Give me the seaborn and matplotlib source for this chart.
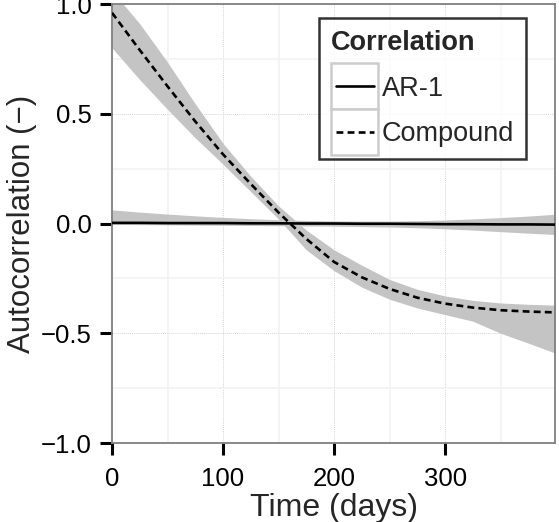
import numpy as np
import pandas as pd
import matplotlib
matplotlib.use("Agg")
import matplotlib.pyplot as plt
import seaborn as sns
from matplotlib.legend_handler import HandlerLine2D
from matplotlib.patches import Rectangle

# --- data ---
days = [0, 25, 50, 75, 100, 125, 150, 175, 200, 225, 250, 275, 300, 325, 350, 375, 399]

compound = [0.96, 0.79, 0.625, 0.465, 0.315, 0.18, 0.05, -0.07, -0.175, -0.245, -0.298,
            -0.338, -0.365, -0.383, -0.395, -0.401, -0.405]
compound_lo = [0.80, 0.655, 0.52, 0.39, 0.27, 0.145, 0.02, -0.12, -0.215, -0.29, -0.345,
               -0.385, -0.415, -0.445, -0.50, -0.545, -0.59]
compound_hi = [1.06, 0.91, 0.735, 0.545, 0.365, 0.215, 0.08, -0.03, -0.12, -0.19, -0.255,
               -0.30, -0.33, -0.35, -0.362, -0.368, -0.372]

ar1 = [0.003, 0.003, 0.002, 0.002, 0.002, 0.001, 0.001, 0.0, 0.0, -0.001, -0.001,
       -0.002, -0.003, -0.003, -0.004, -0.004, -0.005]
ar1_lo = [-0.004, -0.005, -0.006, -0.007, -0.008, -0.009, -0.010, -0.011, -0.012, -0.014,
          -0.016, -0.019, -0.024, -0.030, -0.037, -0.044, -0.050]
ar1_hi = [0.062, 0.052, 0.043, 0.035, 0.028, 0.022, 0.017, 0.014, 0.012, 0.011, 0.011,
          0.013, 0.016, 0.021, 0.027, 0.034, 0.042]

series_names = ["AR-1", "Compound"]
x_ticks = [0, 100, 200, 300]
y_ticks = [-1.0, -0.5, 0.0, 0.5, 1.0]
y_tick_labels = ["\u22121.0", "\u22120.5", "0.0", "0.5", "1.0"]

df = pd.DataFrame({
    "Time": days * 2,
    "Autocorrelation": ar1 + compound,
    "Correlation": [series_names[0]] * len(days) + [series_names[1]] * len(days),
})

sns.set_style("white")
plt.rcParams["font.family"] = ["Liberation Sans", "DejaVu Sans"]

fig = plt.figure(figsize=(5.59, 5.22), dpi=100)
ax = fig.add_axes([0.2004, 0.1513, 0.7925, 0.841])

band = "#c4c4c4"
dash = (2.6, 1.6)
ax.fill_between(days, ar1_lo, ar1_hi, color=band, lw=0, zorder=2)
ax.fill_between(days, compound_lo, compound_hi, color=band, lw=0, zorder=2)

sns.lineplot(data=df, x="Time", y="Autocorrelation", style="Correlation",
             dashes={"AR-1": "", "Compound": dash}, color="black",
             linewidth=1.9, ax=ax, legend=False, zorder=3)

ax.set_xlim(0, 399)
ax.set_ylim(-1.0, 1.0)
ax.set_xticks(x_ticks)
ax.set_yticks(y_ticks)
ax.set_yticklabels(y_tick_labels)
ax.set_xticks([50, 150, 250, 350], minor=True)
ax.set_yticks([-0.75, -0.25, 0.25, 0.75], minor=True)

ax.grid(which="major", color="#d6d6d6", linestyle=(0, (1, 1)), linewidth=0.7, zorder=0)
ax.grid(which="minor", color="#f2f2f2", linestyle="-", linewidth=1.2, zorder=0)
ax.set_axisbelow(True)

for s in ax.spines.values():
    s.set_color("#808080")
    s.set_linewidth(1.3)

ax.tick_params(which="major", direction="out", length=8.5, width=2.2, color="black",
               labelsize=18.5, labelcolor="black", left=True, bottom=True)
ax.tick_params(axis="x", which="major", pad=9)
ax.tick_params(axis="y", which="major", pad=6)
ax.tick_params(which="minor", length=0)

ax.set_xlabel("Time (days)", fontsize=23, labelpad=1)
ax.set_ylabel("Autocorrelation (\u2212)", fontsize=22.5, labelpad=3)


class KeyHandler(HandlerLine2D):
    # ggplot-like legend key: grey-bordered square with the line inside
    def create_artists(self, legend, orig_handle, xdescent, ydescent, width, height,
                       fontsize, trans):
        box_h = 2.45 * height
        box = Rectangle((-xdescent, -ydescent + height / 2 - box_h / 2), width, box_h,
                        facecolor="white", edgecolor="#cccccc", lw=1.8, transform=trans)
        inset = 0.1 * width
        arts = super().create_artists(legend, orig_handle, xdescent - inset, ydescent,
                                      width - 2 * inset, height, fontsize, trans)
        return [box] + arts


handles = [
    plt.Line2D([], [], color="black", lw=1.9, linestyle="-"),
    plt.Line2D([], [], color="black", lw=1.9, linestyle=(0, dash)),
]
leg = ax.legend(handles, series_names, title="Correlation", loc="upper right",
                bbox_to_anchor=(0.935, 0.968), borderaxespad=0, fontsize=19.5,
                title_fontsize=19.5, frameon=True, fancybox=False, handlelength=1.75,
                handletextpad=0.12, labelspacing=0.72, borderpad=0.45, alignment="left",
                handler_map={plt.Line2D: KeyHandler()})
leg.get_title().set_fontweight("bold")
leg.get_frame().set_edgecolor("black")
leg.get_frame().set_linewidth(1.8)
leg.set_zorder(5)

fig.savefig("out.png", dpi=100)
